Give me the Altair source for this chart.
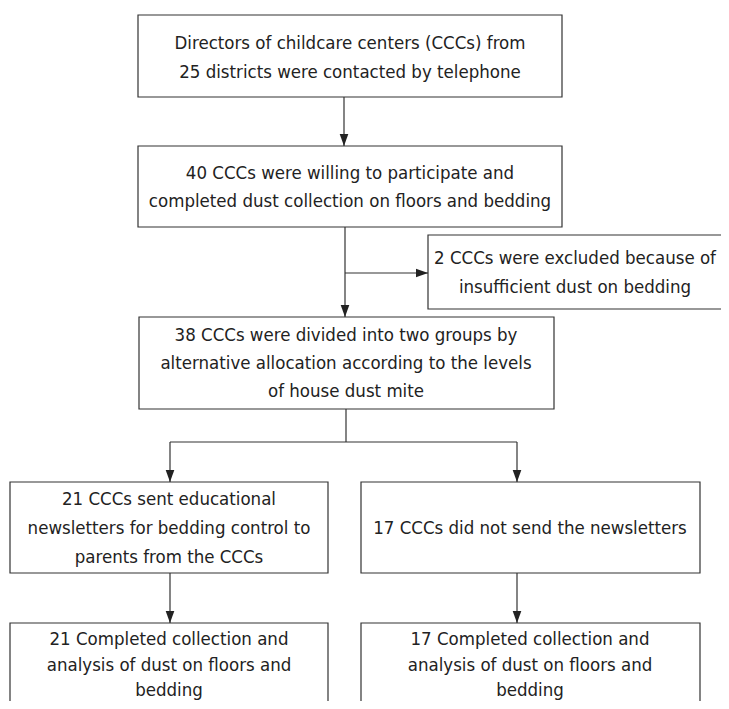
import altair as alt
import pandas as pd

# ---- content ----
box_ids = ["b1", "b2", "excl", "b3", "l1", "r1", "l2", "r2"]
box_lines = [
    ["Directors of childcare centers (CCCs) from", "25 districts were contacted by telephone"],
    ["40 CCCs were willing to participate and", "completed dust collection on floors and bedding"],
    ["2 CCCs were excluded because of", "insufficient dust on bedding"],
    ["38 CCCs were divided into two groups by", "alternative allocation according to the levels", "of house dust mite"],
    ["21 CCCs sent educational", "newsletters for bedding control to", "parents from the CCCs"],
    ["17 CCCs did not send the newsletters"],
    ["21 Completed collection and", "analysis of dust on floors and", "bedding"],
    ["17 Completed collection and", "analysis of dust on floors and", "bedding"],
]

# ---- layout (pixel coordinates of the figure) ----
box_x0 = [138, 138, 428, 139, 10, 361, 10, 361]
box_x1 = [562, 562, 735, 554, 328, 700, 328, 700]
box_y0 = [15, 146, 235, 317, 482, 482, 623, 623]
box_y1 = [97, 227, 309, 409, 573, 573, 722, 722]
text_cx = [350, 350, 575, 346, 169, 530, 169, 530]
text_cy = [[43, 72], [173, 201], [258, 287], [335, 363, 391],
           [499, 528, 557], [528], [639, 665, 690], [639, 665, 690]]

seg_x0 = [344, 345, 345, 346, 170, 170, 517, 170, 517]
seg_y0 = [97, 227, 273, 409, 442, 442, 442, 573, 573]
seg_x1 = [344, 345, 428, 346, 517, 170, 517, 170, 517]
seg_y1 = [146, 317, 273, 442, 442, 482, 482, 623, 623]

down_tip_x = [344, 345, 170, 517, 170, 517]
down_tip_y = [146, 317, 482, 482, 623, 623]
right_tip_x = [428]
right_tip_y = [273]

boxes = pd.DataFrame({"id": box_ids, "x0": box_x0, "x1": box_x1, "y0": box_y0, "y1": box_y1})
rows = []
for bid, lines, cx, cys in zip(box_ids, box_lines, text_cx, text_cy):
    for ln, cy in zip(lines, cys):
        rows.append({"id": bid, "label": ln, "x": cx, "y": cy})
texts = pd.DataFrame(rows)
segs = pd.DataFrame({"x0": seg_x0, "y0": seg_y0, "x1": seg_x1, "y1": seg_y1})
downs = pd.DataFrame({"x": down_tip_x, "y": down_tip_y})
rights = pd.DataFrame({"x": right_tip_x, "y": right_tip_y})

# page margin is 8px: plot area spans figure pixels 8..721 x 8..701
xs = alt.Scale(domain=[8, 721], nice=False, zero=False)
ys = alt.Scale(domain=[8, 701], nice=False, zero=False, reverse=True)

STROKE = "#333333"

rect = alt.Chart(boxes).mark_rect(fill="white", stroke=STROKE, strokeWidth=1.2, clip=True).encode(
    x=alt.X("x0:Q", scale=xs, axis=None), x2="x1:Q",
    y=alt.Y("y0:Q", scale=ys, axis=None), y2="y1:Q",
)

rules = alt.Chart(segs).mark_rule(color=STROKE, strokeWidth=1.2, clip=True).encode(
    x=alt.X("x0:Q", scale=xs, axis=None), x2="x1:Q",
    y=alt.Y("y0:Q", scale=ys, axis=None), y2="y1:Q",
)

down_arrows = alt.Chart(downs).mark_point(
    shape="M0,0 L-0.36,-1 L0.36,-1 Z", filled=True, fill="#222222", stroke=None,
    size=576, opacity=1, clip=True,
).encode(x=alt.X("x:Q", scale=xs, axis=None), y=alt.Y("y:Q", scale=ys, axis=None))

right_arrows = alt.Chart(rights).mark_point(
    shape="M0,0 L-1,-0.36 L-1,0.36 Z", filled=True, fill="#222222", stroke=None,
    size=576, opacity=1, clip=True,
).encode(x=alt.X("x:Q", scale=xs, axis=None), y=alt.Y("y:Q", scale=ys, axis=None))

labels = alt.Chart(texts).mark_text(
    font="DejaVu Sans Condensed, Roboto, sans-serif", fontSize=18.5, color="#222222",
    align="center", baseline="middle", clip=True,
).encode(
    x=alt.X("x:Q", scale=xs, axis=None), y=alt.Y("y:Q", scale=ys, axis=None),
    text="label:N",
)

chart = alt.layer(rect, rules, down_arrows, right_arrows, labels).properties(
    width=713, height=693, padding=0, autosize=alt.AutoSizeParams(type="none"),
    background="white",
).configure_view(stroke=None)

chart.save("out.html", embed_options={"renderer": "svg", "actions": False})
